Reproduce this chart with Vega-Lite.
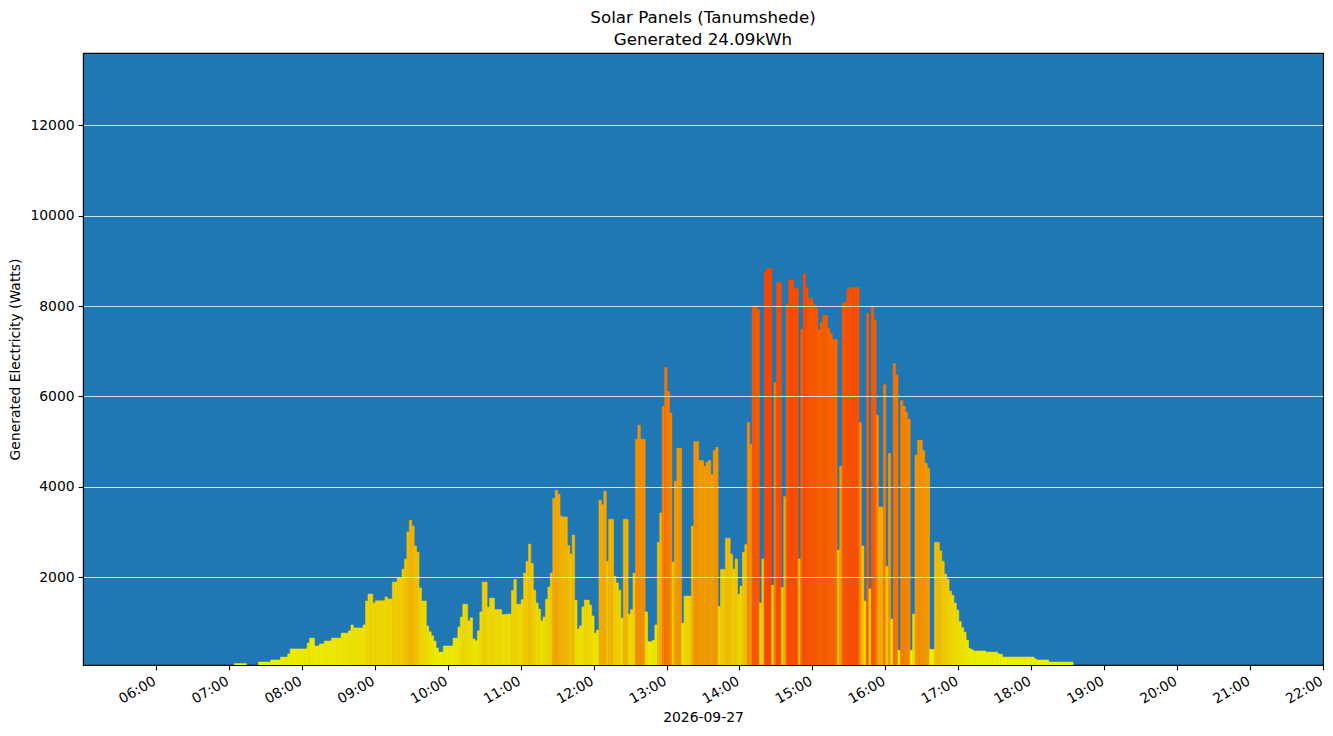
{
  "$schema": "https://vega.github.io/schema/vega-lite/v6.json",
  "width": 1240,
  "height": 612,
  "autosize": {"type": "none"},
  "padding": {"left": 83, "top": 53, "right": 10, "bottom": 71},
  "background": "white",
  "title": {
    "text": ["Solar Panels (Tanumshede)", "Generated 24.09kWh"],
    "font": "DejaVu Sans",
    "fontSize": 16.7,
    "fontWeight": "normal",
    "lineHeight": 22,
    "anchor": "middle",
    "offset": 4,
    "color": "black"
  },
  "config": {
    "view": {"fill": "#1f77b4", "stroke": "black", "strokeWidth": 1.1},
    "axis": {
      "labelFont": "DejaVu Sans",
      "labelFontSize": 13.9,
      "labelColor": "black",
      "titleFont": "DejaVu Sans",
      "titleFontSize": 13.9,
      "titleFontWeight": "normal",
      "titleColor": "black",
      "tickColor": "black",
      "tickSize": 4.9,
      "tickWidth": 1.1,
      "domainColor": "black",
      "domainWidth": 1.1
    }
  },
  "data": {
    "format": {"parse": {"t": "date:'%H:%M'"}},
    "values": [
      {"t": "07:04", "w": 85}, {"t": "07:06", "w": 85}, {"t": "07:08", "w": 85}, {"t": "07:10", "w": 85}, {"t": "07:12", "w": 85},
      {"t": "07:24", "w": 120}, {"t": "07:26", "w": 120}, {"t": "07:28", "w": 120}, {"t": "07:30", "w": 120}, {"t": "07:32", "w": 120},
      {"t": "07:34", "w": 165}, {"t": "07:36", "w": 165}, {"t": "07:38", "w": 165}, {"t": "07:40", "w": 165},
      {"t": "07:42", "w": 230}, {"t": "07:44", "w": 230}, {"t": "07:46", "w": 230}, {"t": "07:48", "w": 300},
      {"t": "07:50", "w": 410}, {"t": "07:52", "w": 410}, {"t": "07:54", "w": 410}, {"t": "07:56", "w": 410}, {"t": "07:58", "w": 410}, {"t": "08:00", "w": 410}, {"t": "08:02", "w": 410},
      {"t": "08:04", "w": 540}, {"t": "08:06", "w": 650}, {"t": "08:08", "w": 650}, {"t": "08:10", "w": 475}, {"t": "08:12", "w": 475},
      {"t": "08:14", "w": 520}, {"t": "08:16", "w": 520}, {"t": "08:18", "w": 585}, {"t": "08:20", "w": 585}, {"t": "08:22", "w": 585},
      {"t": "08:24", "w": 650}, {"t": "08:26", "w": 650}, {"t": "08:28", "w": 650}, {"t": "08:30", "w": 650},
      {"t": "08:32", "w": 760}, {"t": "08:34", "w": 760}, {"t": "08:36", "w": 760}, {"t": "08:38", "w": 810}, {"t": "08:40", "w": 940},
      {"t": "08:42", "w": 875}, {"t": "08:44", "w": 875}, {"t": "08:46", "w": 875}, {"t": "08:48", "w": 875}, {"t": "08:50", "w": 940},
      {"t": "08:52", "w": 1470}, {"t": "08:54", "w": 1625}, {"t": "08:56", "w": 1625}, {"t": "08:58", "w": 1425},
      {"t": "09:00", "w": 1475}, {"t": "09:02", "w": 1475}, {"t": "09:04", "w": 1475}, {"t": "09:06", "w": 1475}, {"t": "09:08", "w": 1560},
      {"t": "09:10", "w": 1515}, {"t": "09:12", "w": 1515}, {"t": "09:14", "w": 1890}, {"t": "09:16", "w": 1890}, {"t": "09:18", "w": 1980},
      {"t": "09:20", "w": 1980}, {"t": "09:22", "w": 2175}, {"t": "09:24", "w": 2400}, {"t": "09:26", "w": 3000}, {"t": "09:28", "w": 3260},
      {"t": "09:30", "w": 3130}, {"t": "09:32", "w": 2690}, {"t": "09:34", "w": 2550}, {"t": "09:36", "w": 1760}, {"t": "09:38", "w": 1470},
      {"t": "09:40", "w": 1470}, {"t": "09:42", "w": 920}, {"t": "09:44", "w": 790}, {"t": "09:46", "w": 700}, {"t": "09:48", "w": 585},
      {"t": "09:50", "w": 430}, {"t": "09:52", "w": 340}, {"t": "09:54", "w": 340}, {"t": "09:56", "w": 475}, {"t": "09:58", "w": 475},
      {"t": "10:00", "w": 475}, {"t": "10:02", "w": 475}, {"t": "10:04", "w": 650}, {"t": "10:06", "w": 650}, {"t": "10:08", "w": 895},
      {"t": "10:10", "w": 1115}, {"t": "10:12", "w": 1400}, {"t": "10:14", "w": 1400}, {"t": "10:16", "w": 1030}, {"t": "10:18", "w": 1100},
      {"t": "10:20", "w": 630}, {"t": "10:22", "w": 590}, {"t": "10:24", "w": 810}, {"t": "10:26", "w": 1230}, {"t": "10:28", "w": 1890},
      {"t": "10:30", "w": 1890}, {"t": "10:32", "w": 1330}, {"t": "10:34", "w": 1535}, {"t": "10:36", "w": 1535}, {"t": "10:38", "w": 1280},
      {"t": "10:40", "w": 1280}, {"t": "10:42", "w": 1280}, {"t": "10:44", "w": 1170}, {"t": "10:46", "w": 1170}, {"t": "10:48", "w": 1180},
      {"t": "10:50", "w": 1180}, {"t": "10:52", "w": 1700}, {"t": "10:54", "w": 1950}, {"t": "10:56", "w": 1400}, {"t": "10:58", "w": 1400},
      {"t": "11:00", "w": 1500}, {"t": "11:02", "w": 2085}, {"t": "11:04", "w": 2350}, {"t": "11:06", "w": 2730}, {"t": "11:08", "w": 2300},
      {"t": "11:10", "w": 1710}, {"t": "11:12", "w": 1425}, {"t": "11:14", "w": 1290}, {"t": "11:16", "w": 1030}, {"t": "11:18", "w": 1115},
      {"t": "11:20", "w": 1510}, {"t": "11:22", "w": 1780}, {"t": "11:24", "w": 2085}, {"t": "11:26", "w": 3740}, {"t": "11:28", "w": 3920},
      {"t": "11:30", "w": 3830}, {"t": "11:32", "w": 3350}, {"t": "11:34", "w": 3330}, {"t": "11:36", "w": 3330}, {"t": "11:38", "w": 2700},
      {"t": "11:40", "w": 2510}, {"t": "11:42", "w": 2930}, {"t": "11:44", "w": 1490}, {"t": "11:46", "w": 850}, {"t": "11:48", "w": 920},
      {"t": "11:50", "w": 1340}, {"t": "11:52", "w": 1490}, {"t": "11:54", "w": 1490}, {"t": "11:56", "w": 1380}, {"t": "11:58", "w": 1140},
      {"t": "12:00", "w": 760}, {"t": "12:02", "w": 830}, {"t": "12:04", "w": 3700}, {"t": "12:06", "w": 3600}, {"t": "12:08", "w": 3900},
      {"t": "12:10", "w": 2350}, {"t": "12:12", "w": 3280}, {"t": "12:14", "w": 3280}, {"t": "12:16", "w": 2020}, {"t": "12:18", "w": 1870},
      {"t": "12:20", "w": 1710}, {"t": "12:22", "w": 1090}, {"t": "12:24", "w": 3280}, {"t": "12:26", "w": 3280}, {"t": "12:28", "w": 1180},
      {"t": "12:30", "w": 1280}, {"t": "12:32", "w": 2085}, {"t": "12:34", "w": 5050}, {"t": "12:36", "w": 5360}, {"t": "12:38", "w": 5050},
      {"t": "12:40", "w": 5050}, {"t": "12:42", "w": 1230}, {"t": "12:44", "w": 570}, {"t": "12:46", "w": 570}, {"t": "12:48", "w": 600},
      {"t": "12:50", "w": 940}, {"t": "12:52", "w": 2770}, {"t": "12:54", "w": 3420}, {"t": "12:56", "w": 5780}, {"t": "12:58", "w": 6640},
      {"t": "13:00", "w": 6110}, {"t": "13:02", "w": 5630}, {"t": "13:04", "w": 2330}, {"t": "13:06", "w": 4120}, {"t": "13:08", "w": 4850},
      {"t": "13:10", "w": 4850}, {"t": "13:12", "w": 980}, {"t": "13:14", "w": 1580}, {"t": "13:16", "w": 1580}, {"t": "13:18", "w": 1580},
      {"t": "13:20", "w": 3130}, {"t": "13:22", "w": 5000}, {"t": "13:24", "w": 5000}, {"t": "13:26", "w": 4580}, {"t": "13:28", "w": 4580},
      {"t": "13:30", "w": 4450}, {"t": "13:32", "w": 4540}, {"t": "13:34", "w": 4580}, {"t": "13:36", "w": 4270}, {"t": "13:38", "w": 4800},
      {"t": "13:40", "w": 4870}, {"t": "13:42", "w": 1350}, {"t": "13:44", "w": 2170}, {"t": "13:46", "w": 2170}, {"t": "13:48", "w": 2860},
      {"t": "13:50", "w": 2860}, {"t": "13:52", "w": 2510}, {"t": "13:54", "w": 2180}, {"t": "13:56", "w": 2400}, {"t": "13:58", "w": 1620},
      {"t": "14:00", "w": 1800}, {"t": "14:02", "w": 2550}, {"t": "14:04", "w": 2720}, {"t": "14:06", "w": 5420}, {"t": "14:08", "w": 4940},
      {"t": "14:10", "w": 8010}, {"t": "14:12", "w": 8010}, {"t": "14:14", "w": 7920}, {"t": "14:16", "w": 1425}, {"t": "14:18", "w": 2400},
      {"t": "14:20", "w": 8750}, {"t": "14:22", "w": 8830}, {"t": "14:24", "w": 8830}, {"t": "14:26", "w": 1820}, {"t": "14:28", "w": 6310},
      {"t": "14:30", "w": 8520}, {"t": "14:32", "w": 8520}, {"t": "14:34", "w": 1770}, {"t": "14:36", "w": 3780}, {"t": "14:38", "w": 8030},
      {"t": "14:40", "w": 8580}, {"t": "14:42", "w": 8580}, {"t": "14:44", "w": 8380}, {"t": "14:46", "w": 8390}, {"t": "14:48", "w": 2400},
      {"t": "14:50", "w": 7480}, {"t": "14:52", "w": 8720}, {"t": "14:54", "w": 8410}, {"t": "14:56", "w": 8160}, {"t": "14:58", "w": 8160},
      {"t": "15:00", "w": 8030}, {"t": "15:02", "w": 7950}, {"t": "15:04", "w": 7480}, {"t": "15:06", "w": 7630}, {"t": "15:08", "w": 7790},
      {"t": "15:10", "w": 7790}, {"t": "15:12", "w": 7500}, {"t": "15:14", "w": 7390}, {"t": "15:16", "w": 7260}, {"t": "15:18", "w": 7260},
      {"t": "15:20", "w": 2600}, {"t": "15:22", "w": 4450}, {"t": "15:24", "w": 8050}, {"t": "15:26", "w": 8090}, {"t": "15:28", "w": 8370},
      {"t": "15:30", "w": 8410}, {"t": "15:32", "w": 8410}, {"t": "15:34", "w": 8410}, {"t": "15:36", "w": 8410}, {"t": "15:38", "w": 5420},
      {"t": "15:40", "w": 2690}, {"t": "15:42", "w": 1470}, {"t": "15:44", "w": 7840}, {"t": "15:46", "w": 1740}, {"t": "15:48", "w": 8000},
      {"t": "15:50", "w": 7680}, {"t": "15:52", "w": 5580}, {"t": "15:54", "w": 3550}, {"t": "15:56", "w": 3550}, {"t": "15:58", "w": 6260},
      {"t": "16:00", "w": 2240}, {"t": "16:02", "w": 4740}, {"t": "16:04", "w": 1070}, {"t": "16:06", "w": 6730}, {"t": "16:08", "w": 6470},
      {"t": "16:10", "w": 380}, {"t": "16:12", "w": 5910}, {"t": "16:14", "w": 5780}, {"t": "16:16", "w": 5650}, {"t": "16:18", "w": 5490},
      {"t": "16:20", "w": 380}, {"t": "16:22", "w": 1180}, {"t": "16:24", "w": 4700}, {"t": "16:26", "w": 5030}, {"t": "16:28", "w": 5030},
      {"t": "16:30", "w": 4800}, {"t": "16:32", "w": 4520}, {"t": "16:34", "w": 4410}, {"t": "16:36", "w": 400}, {"t": "16:38", "w": 400},
      {"t": "16:40", "w": 2770}, {"t": "16:42", "w": 2770}, {"t": "16:44", "w": 2580}, {"t": "16:46", "w": 2350}, {"t": "16:48", "w": 2070},
      {"t": "16:50", "w": 1950}, {"t": "16:52", "w": 1690}, {"t": "16:54", "w": 1600}, {"t": "16:56", "w": 1425}, {"t": "16:58", "w": 1270},
      {"t": "17:00", "w": 1020}, {"t": "17:02", "w": 880}, {"t": "17:04", "w": 780}, {"t": "17:06", "w": 600}, {"t": "17:08", "w": 420},
      {"t": "17:10", "w": 390}, {"t": "17:12", "w": 365}, {"t": "17:14", "w": 365}, {"t": "17:16", "w": 365}, {"t": "17:18", "w": 365},
      {"t": "17:20", "w": 365}, {"t": "17:22", "w": 340}, {"t": "17:24", "w": 340}, {"t": "17:26", "w": 340}, {"t": "17:28", "w": 340},
      {"t": "17:30", "w": 340}, {"t": "17:32", "w": 300}, {"t": "17:34", "w": 290}, {"t": "17:36", "w": 230}, {"t": "17:38", "w": 230},
      {"t": "17:40", "w": 230}, {"t": "17:42", "w": 230}, {"t": "17:44", "w": 230}, {"t": "17:46", "w": 230}, {"t": "17:48", "w": 230},
      {"t": "17:50", "w": 230}, {"t": "17:52", "w": 230}, {"t": "17:54", "w": 230}, {"t": "17:56", "w": 230}, {"t": "17:58", "w": 230},
      {"t": "18:00", "w": 230}, {"t": "18:02", "w": 190}, {"t": "18:04", "w": 165}, {"t": "18:06", "w": 165}, {"t": "18:08", "w": 165},
      {"t": "18:10", "w": 165}, {"t": "18:12", "w": 165}, {"t": "18:14", "w": 120}, {"t": "18:16", "w": 120}, {"t": "18:18", "w": 120},
      {"t": "18:20", "w": 120}, {"t": "18:22", "w": 120}, {"t": "18:24", "w": 120}, {"t": "18:26", "w": 120}, {"t": "18:28", "w": 120},
      {"t": "18:30", "w": 120}, {"t": "18:32", "w": 120}
    ]
  },
  "mark": {"type": "bar", "clip": true, "binSpacing": 0, "strokeWidth": 0.6},
  "encoding": {
    "x": {
      "field": "t",
      "type": "temporal",
      "timeUnit": {"unit": "yearmonthdatehoursminutes", "step": 2},
      "title": "2026-09-27",
      "scale": {
        "domain": [
          {"year": 1900, "month": 1, "date": 1, "hours": 5},
          {"year": 1900, "month": 1, "date": 1, "hours": 22}
        ],
        "nice": false
      },
      "axis": {
        "values": [
          {"year": 1900, "month": 1, "date": 1, "hours": 6},
          {"year": 1900, "month": 1, "date": 1, "hours": 7},
          {"year": 1900, "month": 1, "date": 1, "hours": 8},
          {"year": 1900, "month": 1, "date": 1, "hours": 9},
          {"year": 1900, "month": 1, "date": 1, "hours": 10},
          {"year": 1900, "month": 1, "date": 1, "hours": 11},
          {"year": 1900, "month": 1, "date": 1, "hours": 12},
          {"year": 1900, "month": 1, "date": 1, "hours": 13},
          {"year": 1900, "month": 1, "date": 1, "hours": 14},
          {"year": 1900, "month": 1, "date": 1, "hours": 15},
          {"year": 1900, "month": 1, "date": 1, "hours": 16},
          {"year": 1900, "month": 1, "date": 1, "hours": 17},
          {"year": 1900, "month": 1, "date": 1, "hours": 18},
          {"year": 1900, "month": 1, "date": 1, "hours": 19},
          {"year": 1900, "month": 1, "date": 1, "hours": 20},
          {"year": 1900, "month": 1, "date": 1, "hours": 21},
          {"year": 1900, "month": 1, "date": 1, "hours": 22}
        ],
        "format": "%H:%M",
        "labelAngle": -30,
        "labelAlign": "right",
        "labelBaseline": "top",
        "labelPadding": 4,
        "labelOffset": -5,
        "labelOverlap": false,
        "labelFlush": false,
        "grid": false,
        "titlePadding": 5
      }
    },
    "y": {
      "field": "w",
      "type": "quantitative",
      "title": "Generated Electricity (Watts)",
      "scale": {"domain": [55, 13600], "nice": false, "zero": false},
      "axis": {
        "values": [2000, 4000, 6000, 8000, 10000, 12000],
        "format": "d",
        "grid": true,
        "gridColor": "white",
        "gridWidth": 0.8,
        "gridOpacity": 1,
        "zindex": 1,
        "labelPadding": 4,
        "titlePadding": 7
      }
    },
    "color": {
      "field": "w",
      "type": "quantitative",
      "legend": null,
      "scale": {
        "domain": [0, 12000],
        "range": ["#eef400", "#ff0800"],
        "interpolate": "rgb"
      }
    },
    "stroke": {
      "field": "w",
      "type": "quantitative",
      "legend": null,
      "scale": {
        "domain": [0, 12000],
        "range": ["#eef400", "#ff0800"],
        "interpolate": "rgb"
      }
    }
  }
}
